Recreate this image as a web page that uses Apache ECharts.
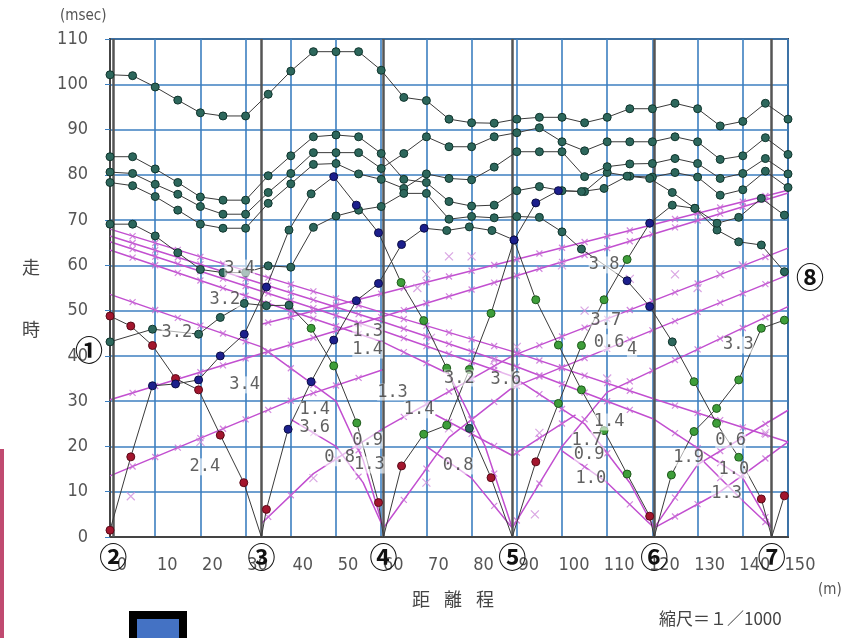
<!DOCTYPE html>
<html><head><meta charset="utf-8">
<script src="https://cdn.jsdelivr.net/npm/echarts@6/dist/echarts.min.js"></script>
<style>html,body{margin:0;padding:0;background:#fff}#c{width:851px;height:638px}</style>
</head><body><div id="c"></div>
<script>
// ---------- data ----------
const xTicks = [0,10,20,30,40,50,60,70,80,90,100,110,120,130,140,150];
const yTicks = [0,10,20,30,40,50,60,70,80,90,100,110];
const stations = [0.7, 33.5, 60.5, 89, 120.4, 146.4];
const stationNames = ['②','③','④','⑤','⑥','⑦'];

// travel-time curves: [x(m), t(msec), kind] kind 0=teal 1=red 2=blue 3=green, -1=shot point (no mark)
const curve1 = [[0,102.1,0],[5,101.9,0],[10,99.4,0],[15,96.5,0],[20,93.7,0],[25,93.0,0],[30,93.0,0],[35,97.8,0],[40,102.9,0],[45,107.2,0],[50,107.2,0],[55,107.2,0],[60,103.1,0],[65,97.1,0],[70,96.4,0],[75,92.3,0],[80,91.5,0],[85,91.4,0],[90,92.3,0],[95,92.7,0],[100,92.7,0],[105,91.5,0],[110,92.7,0],[115,94.6,0],[120,94.6,0],[125,95.8,0],[130,94.6,0],[135,90.8,0],[140,91.8,0],[145,95.8,0],[150,92.3,0]];
const curve2 = [[0,84,0],[5,84,0],[10,81.3,0],[15,78.3,0],[20,75.1,0],[25,74.4,0],[30,74.4,0],[35,79.8,0],[40,84.2,0],[45,88.4,0],[50,88.8,0],[55,88.4,0],[60,84.7,0],[65,79.0,0],[70,78.3,0],[75,74.1,0],[80,73.1,0],[85,73.3,0],[90,76.5,0],[95,77.4,0],[100,76.5,0],[105,76.3,0],[110,80.5,0],[115,79.7,0],[120,79.5,0],[125,80.5,0],[130,79.5,0],[135,75.5,0],[140,76.7,0],[145,80.8,0],[150,77.2,0]];
const curve3 = [[0,80.6,0],[5,80.3,0],[10,77.9,0],[15,75.7,0],[20,73.0,0],[25,71.3,0],[30,71.3,0],[35,76.1,0],[40,80.3,0],[45,84.9,0],[50,84.9,0],[55,84.9,0],[60,81.4,0],[65,84.7,0],[70,88.4,0],[75,86.2,0],[80,86.2,0],[85,88.4,0],[90,89.3,0],[95,90.4,0],[100,87.3,0],[105,85.3,0],[110,87.3,0],[115,87.3,0],[120,87.3,0],[125,88.4,0],[130,87.3,0],[135,83.4,0],[140,84.2,0],[145,88.2,0],[150,84.5,0]];
const curve4 = [[0,78.3,0],[5,77.6,0],[10,75.2,0],[15,72.2,0],[20,69.1,0],[25,68.2,0],[30,68.2,0],[35,73.7,0],[40,78.0,0],[45,82.3,0],[50,82.5,0],[55,80.2,0],[60,79.0,0],[65,77.0,0],[70,80.2,0],[75,79.2,0],[80,78.9,0],[85,81.7,0],[90,85.1,0],[95,85.1,0],[100,85.1,0],[105,79.6,0],[110,81.8,0],[115,82.4,0],[120,82.5,0],[125,83.6,0],[130,82.5,0],[135,79.2,0],[140,80.3,0],[145,83.6,0],[150,80.2,0]];
const curve5 = [[0,69.1,0],[5,69.1,0],[10,66.5,0],[15,62.8,0],[20,59.1,0],[25,58.4,0],[30,58.4,0],[35,59.9,0],[40,59.6,0],[45,68.4,0],[50,70.9,0],[55,72.2,0],[60,73.0,0],[65,75.9,0],[70,75.9,0],[75,70.2,0],[80,70.8,0],[85,70.5,0],[90,70.8,0],[95,70.6,0],[100,67.4,0],[104.3,63.6,0],[114.4,56.6,2],[119.4,50.9,2],[124.4,43.1,0],[129.2,34.3,3],[134.2,25.1,3],[139.1,17.6,3],[144.1,8.4,1],[146.4,0,-1]];
const shot2Right = [[0,1.5,1],[4.6,17.7,1],[9.4,33.4,2],[14.5,33.8,2],[19.6,34.7,2],[24.4,40.0,2],[29.7,44.8,2],[34.6,55.2,2],[39.6,67.8,0],[44.5,75.8,0],[49.5,79.6,2],[54.5,73.3,2],[59.4,67.2,2],[64.4,56.2,3],[69.4,47.8,3],[74.5,37.3,3],[79.5,24.0,0],[84.3,13.1,1],[89,0,-1]];
const shot3Left = [[33.5,0,-1],[29.6,12.0,1],[24.4,22.5,1],[19.6,32.5,1],[14.5,35.0,1],[9.4,42.3,1],[4.6,46.6,1],[0,48.8,1]];
const shot3Right = [[33.5,0,-1],[34.6,6.1,1],[39.4,23.8,2],[44.5,34.3,2],[49.5,43.5,2],[54.5,52.2,2],[59.4,56.0,2],[64.5,64.6,2],[69.5,68.2,2],[74.5,67.7,0],[79.5,68.5,0],[84.5,67.7,0],[89.4,65.6,2],[94.2,52.4,3],[99.2,42.4,3],[104.3,32.5,3],[109.3,23.5,3],[114.4,13.9,3],[119.4,4.6,1],[120.4,0,-1]];
const shot4Left = [[60.5,0,-1],[59.4,7.6,1],[54.6,25.2,3],[49.5,37.8,3],[44.5,46.1,3],[39.6,51.2,0],[34.6,51.1,0],[29.7,51.6,0],[24.4,48.5,0],[19.6,44.8,0],[9.4,45.9,0],[0,43.1,0]];
const shot4Right = [[60.5,0,-1],[64.5,15.7,1],[69.4,22.7,3],[74.5,24.7,3],[79.5,37.0,3],[84.3,49.4,3],[89.4,65.6,2],[94.2,73.8,2],[99.2,76.5,2],[104.3,76.3,0],[109.3,77.0,0],[114.4,79.7,0],[119.4,79.2,0],[124.4,76.1,0],[129.4,72.6,0],[134.3,67.8,0],[139.1,65.2,0],[144.1,64.5,0],[149.2,58.6,0]];
const shot5Right = [[89,0,-1],[94.2,16.6,1],[99.2,29.5,3],[104.3,42.3,3],[109.3,52.4,3],[114.4,61.3,3],[119.4,69.3,2],[124.4,73.3,0],[129.4,72.6,0],[134.3,69.3,0],[139.1,70.6,0],[144.1,74.8,0],[149.2,71.1,0]];
const shot6Right = [[120.4,0,-1],[124.2,13.7,3],[129.2,23.3,3],[134.2,28.4,3],[139.1,34.7,3],[144.1,46.1,3],[149.2,47.9,3]];
const shot7Right = [[146.4,0,-1],[149.2,9.1,1]];

// velocity lines (magenta) as polylines [x, t]
const velDesc1 = [[0,68.0],[60.5,49.5],[89,41.0],[120.4,30.5],[150,21.0]];
const velDesc2 = [[0,66.5],[60.5,47.5],[89,38.0],[120.4,26.0],[140,13.0],[146.4,2.0]];
const velDesc3 = [[0,65.2],[60.5,45.5],[89,35.5],[105,25.0],[115,12.0],[120.4,2.0]];
const velDesc4 = [[0,63.4],[60.5,43.0],[75,36.0],[83,20.0],[89,2.0]];
const velDesc5 = [[0,53.6],[33.5,42.0],[50,30.0],[56,17.0],[60.5,2.0]];
const velAsc1 = [[0,30.3],[150,76.0]];
const velAsc2 = [[33.5,47.0],[150,76.6]];
const velAsc3 = [[0,13.5],[39.4,29.9],[60.5,37.0]];
const velAsc4 = [[33.5,3.0],[45,14.0],[60.5,24.0],[89,40.0],[150,63.8]];
const velAsc5 = [[60.5,2.0],[75,22.0],[89,33.0],[150,57.9]];
const velAsc6 = [[89,2.0],[100,20.0],[110,32.0],[150,50.9]];
const velAsc7 = [[120.4,2.0],[130,16.0],[150,28.0]];
const velAsc8 = [[120.4,2.0],[135,10.0],[150,21.0]];
const velLeft4 = [[60.5,2.0],[56,12.0],[50,20.0],[40,26.0]];
const velLeft5 = [[89,2.0],[80,13.0],[70,20.0]];
const velLeft6 = [[120.4,2.0],[110,12.0],[100,19.0]];
const velLeft7 = [[146.4,2.0],[140,8.0],[130,18.0]];
const velV5 = [[72,27.0],[89,18.0],[103,27.0]];
const crossMarks = [[4.6,9],[20,21],[45,13],[70,12],[75,24],[85,39],[94,5],[100,60],[105,50],[110,35],[115,57],[125,58],[130,55],[135,58],[140,60],[145,23],[75,62],[80,62],[90,42],[68,55],[70,58],[71,44],[95,23]];

// velocity / annotation labels [x, t, text]
const velLabels = [[28.7,59.4,'3.4'],[25.4,52.4,'3.2'],[14.8,45.1,'3.2'],[29.8,33.6,'3.4'],[21.0,15.5,'2.4'],[45.3,28.1,'1.4'],[45.3,24.1,'3.6'],[50.8,17.5,'0.8'],[57.0,21.4,'0.9'],[57.4,15.9,'1.3'],[57.0,45.3,'1.3'],[57.0,41.3,'1.4'],[62.5,32.0,'1.3'],[68.4,28.1,'1.4'],[77.3,35.1,'3.2'],[87.6,34.7,'3.6'],[77.0,15.7,'0.8'],[109.3,60.1,'3.8'],[109.7,47.9,'3.7'],[110.4,42.9,'0.6'],[115.5,41.5,'4'],[110.4,25.4,'1.4'],[105.5,21.4,'1.7'],[106.0,18.1,'0.9'],[106.4,13.0,'1.0'],[128.0,17.5,'1.9'],[137.3,21.4,'0.6'],[138.0,14.8,'1.0'],[136.4,9.7,'1.3'],[139.0,42.4,'3.3']];

// ---------- chart ----------
const kindColor = ['#2d675c','#a3162e','#1c1f8c','#3e9e3a'];
const kindBorder = ['#10352d','#5a0a18','#0b0d45','#1f5a1c'];
const curves = [curve1,curve2,curve3,curve4,curve5,shot2Right,shot3Left,shot3Right,shot4Left,shot4Right,shot5Right,shot6Right,shot7Right];
const velLines = [velDesc1,velDesc2,velDesc3,velDesc4,velDesc5,velAsc1,velAsc2,velAsc3,velAsc4,velAsc5,velAsc6,velAsc7,velAsc8,velLeft4,velLeft5,velLeft6,velLeft7,velV5];
const X = 'path://M0,0L10,10M10,0L0,10';
const series = [];
velLines.forEach(l=>{
  series.push({type:'line', data:l, symbol:'none', z:3, silent:true, lineStyle:{color:'#c24fd0', width:1.5}});
  const pts=[];
  for(let i=0;i<l.length-1;i++){
    const [x1,t1]=l[i],[x2,t2]=l[i+1];
    const lo=Math.min(x1,x2), hi=Math.max(x1,x2);
    for(let x=Math.ceil((lo+0.5)/5)*5; x<hi-0.5; x+=5) pts.push([x, t1+(t2-t1)*(x-x1)/(x2-x1)]);
  }
  series.push({type:'scatter', data:pts, symbol:X, symbolSize:6, z:3, silent:true,
    itemStyle:{color:'rgba(0,0,0,0)', borderColor:'#c76ad6', borderWidth:1.2}});
});
series.push({type:'scatter', data:crossMarks, symbol:X, symbolSize:8, z:3, silent:true,
  itemStyle:{color:'rgba(0,0,0,0)', borderColor:'#cf8fdc', borderWidth:1.2}});
curves.forEach(c=>series.push({type:'line', data:c.map(p=>[p[0],p[1]]), symbol:'none', z:5, silent:true,
  lineStyle:{color:'#3a3a3a', width:1}}));
[0,1,2,3].forEach(k=>{
  const pts=[]; curves.forEach(c=>c.forEach(p=>{ if(p[2]===k) pts.push([p[0],p[1]]); }));
  series.push({type:'scatter', data:pts, symbol:'circle', symbolSize:8, z:6, silent:true,
    itemStyle:{color:kindColor[k], borderColor:kindBorder[k], borderWidth:1, opacity:1}});
});
// station lines
series.push({type:'line', data:[], z:4, markLine:{silent:true, symbol:'none', label:{show:false},
  lineStyle:{color:'#555', width:2.5, type:'solid'}, data:stations.map(s=>({xAxis:s}))}});
// velocity labels
series.push({type:'scatter', data:velLabels, symbolSize:0, z:8, silent:true,
  label:{show:true, position:'inside', formatter:p=>p.data[2], color:'#3a3a3a', fontSize:17,
    fontFamily:'DejaVu Sans Mono', backgroundColor:'rgba(255,255,255,0.75)'}});

const chart = echarts.init(document.getElementById('c'), null, {renderer:'canvas'});
const fam = '"Liberation Sans Narrow","DejaVu Sans Condensed","Roboto Condensed",sans-serif';
const jp = '"Noto Sans CJK JP",sans-serif';
const base = [
  {type:'text', left:60, top:9, style:{text:'(msec)', fontSize:15, fill:'#555', fontFamily:fam}},
  {type:'text', left:22, top:258, style:{text:'走', fontSize:18, fill:'#444', fontFamily:jp}},
  {type:'text', left:22, top:320, style:{text:'時', fontSize:18, fill:'#444', fontFamily:jp}},
  {type:'text', left:412, top:590, style:{text:'距', fontSize:18, fill:'#444', fontFamily:jp}},
  {type:'text', left:444, top:590, style:{text:'離', fontSize:18, fill:'#444', fontFamily:jp}},
  {type:'text', left:476, top:590, style:{text:'程', fontSize:18, fill:'#444', fontFamily:jp}},
  {type:'text', left:818, top:583, style:{text:'(m)', fontSize:15, fill:'#555', fontFamily:fam}},
  {type:'text', left:659, top:610, style:{text:'縮尺＝１／1000', fontSize:17, fill:'#444', fontFamily:jp}},
  {type:'text', x:89, y:350, z:20, style:{text:'①', fontSize:28, fontWeight:'bold', fill:'#111', align:'center', verticalAlign:'middle', fontFamily:jp}},
  {type:'text', x:810, y:277, z:20, style:{text:'⑧', fontSize:28, fontWeight:'bold', fill:'#111', align:'center', verticalAlign:'middle', fontFamily:jp}},
  {type:'rect', shape:{x:0, y:449, width:4, height:189}, style:{fill:'#c04a70'}},
  {type:'rect', shape:{x:133, y:615, width:50, height:30}, style:{fill:'#4472c4', stroke:'#000', lineWidth:8}}
];
chart.setOption({
  animation:false,
  backgroundColor:'#fff',
  grid:{left:110, right:63, top:39, bottom:101, show:true, borderColor:'#444', borderWidth:2},
  xAxis:{type:'value', min:0, max:150, interval:10,
    axisLine:{lineStyle:{color:'#444', width:2}}, axisTick:{show:false},
    axisLabel:{color:'#555', fontSize:18, fontFamily:fam, margin:19, padding:[0,0,0,24]},
    splitLine:{lineStyle:{color:'#3d7fc0', width:1.6}}},
  yAxis:{type:'value', min:0, max:110, interval:10,
    axisLine:{lineStyle:{color:'#444', width:2}}, axisTick:{show:true, length:5, lineStyle:{color:'#3d7fc0'}},
    axisLabel:{color:'#555', fontSize:18, fontFamily:fam, margin:22},
    splitLine:{lineStyle:{color:'#3d7fc0', width:1.6}}},
  series:series,
  graphic:base
});
const extra = stations.map((s,i)=>{
  const p = chart.convertToPixel({xAxisIndex:0,yAxisIndex:0},[s,0]);
  return {type:'text', x:p[0], y:557, z:20, style:{text:stationNames[i], fontSize:28, fontWeight:'bold', fill:'#111', align:'center', verticalAlign:'middle', fontFamily:jp}};
});
chart.setOption({graphic: base.concat(extra)}, {replaceMerge:['graphic']});
</script></body></html>
